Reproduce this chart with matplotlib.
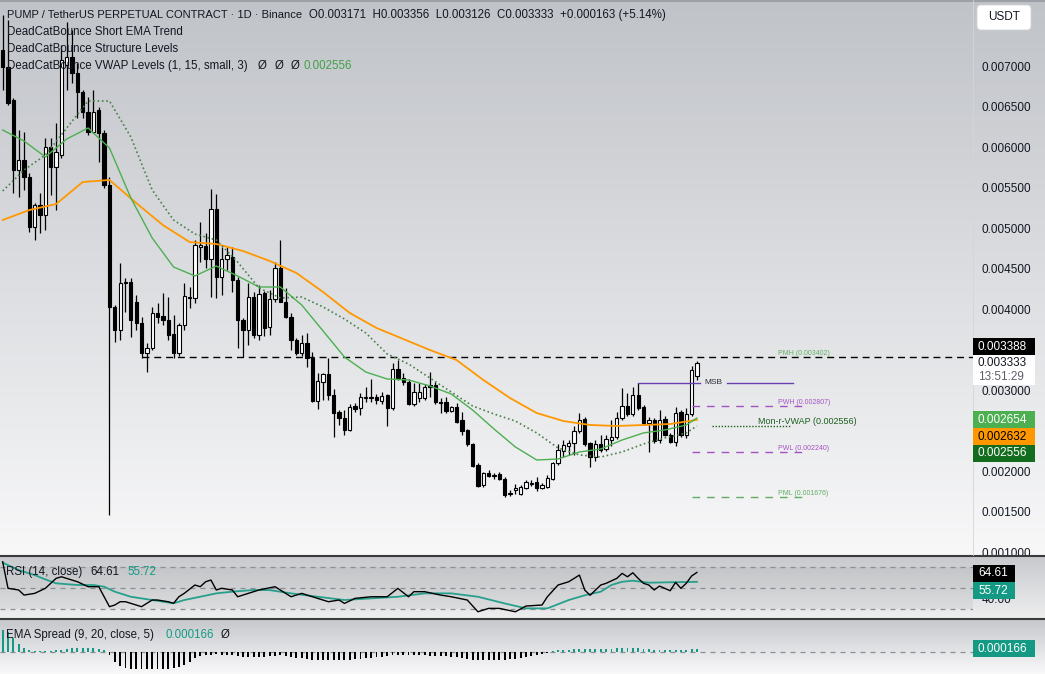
import numpy as np
import matplotlib
matplotlib.use("Agg")
import matplotlib.pyplot as plt
from matplotlib.patches import Rectangle, FancyBboxPatch
from matplotlib.colors import LinearSegmentedColormap
from matplotlib.ticker import FormatStrFormatter
from matplotlib.transforms import IdentityTransform
from matplotlib.lines import Line2D

plt.rcParams['font.family'] = ['Liberation Sans', 'DejaVu Sans']

W, H = 1045, 674

# daily candles, PUMP/USDT perp
open_ = [
    0.007198, 0.006988, 0.006580, 0.005716, 0.005840, 0.005630, 0.005012, 0.005284, 0.005161, 0.006000,
    0.005753, 0.005901, 0.007013, 0.007111, 0.006914, 0.006679, 0.006432, 0.006185, 0.006457, 0.006173,
    0.005531, 0.004025, 0.003741, 0.004321, 0.004334, 0.004087, 0.003827, 0.003457, 0.003519, 0.003951,
    0.003914, 0.003864, 0.003692, 0.003457, 0.003802, 0.004136, 0.004136, 0.004766, 0.004778, 0.004617,
    0.005235, 0.004395, 0.004617, 0.004642, 0.004358, 0.003864, 0.003741, 0.004148, 0.003679, 0.004198,
    0.003778, 0.004124, 0.004506, 0.004087, 0.003901, 0.003617, 0.003457, 0.003580, 0.003395, 0.002864,
    0.003099, 0.003198, 0.002938, 0.002729, 0.002654, 0.002507, 0.002803, 0.002778, 0.002901, 0.002914,
    0.002914, 0.002864, 0.002938, 0.002778, 0.003259, 0.003148, 0.003099, 0.002827, 0.002901, 0.002901,
    0.003062, 0.003062, 0.002852, 0.002852, 0.002741, 0.002790, 0.002630, 0.002507, 0.002334, 0.002074,
    0.001827, 0.001975, 0.001938, 0.001963, 0.001901, 0.001716, 0.001766, 0.001716, 0.001790, 0.001840,
    0.001864, 0.001790, 0.001803, 0.001901, 0.002099, 0.002247, 0.002309, 0.002346, 0.002495, 0.002642,
    0.002346, 0.002173, 0.002334, 0.002272, 0.002383, 0.002420, 0.002654, 0.002803, 0.002704, 0.002938,
    0.002790, 0.002593, 0.002630, 0.002383, 0.002642, 0.002445, 0.002358, 0.002729, 0.002445, 0.002704,
    0.003171]
high = [
    0.007630, 0.007568, 0.006605, 0.006210, 0.006185, 0.005679, 0.005309, 0.005432, 0.006111, 0.006111,
    0.006296, 0.007259, 0.007543, 0.007445, 0.007037, 0.006704, 0.006617, 0.006704, 0.006494, 0.006210,
    0.005630, 0.004049, 0.004568, 0.004383, 0.004383, 0.004173, 0.003901, 0.003580, 0.004025, 0.004074,
    0.004198, 0.004148, 0.003926, 0.003827, 0.004321, 0.004272, 0.004852, 0.005074, 0.004938, 0.005482,
    0.005420, 0.004766, 0.004766, 0.004766, 0.004395, 0.003889, 0.004321, 0.004210, 0.004297, 0.004222,
    0.004235, 0.004580, 0.004852, 0.004260, 0.003951, 0.003642, 0.003679, 0.003704, 0.003469, 0.003210,
    0.003210, 0.003395, 0.003012, 0.002753, 0.002753, 0.002827, 0.002840, 0.002963, 0.003037, 0.003136,
    0.002951, 0.002975, 0.002951, 0.003333, 0.003370, 0.003210, 0.003136, 0.003087, 0.003087, 0.003074,
    0.003222, 0.003099, 0.002901, 0.002914, 0.002803, 0.002840, 0.002729, 0.002519, 0.002346, 0.002099,
    0.001988, 0.002012, 0.001975, 0.001988, 0.001926, 0.001766, 0.001840, 0.001827, 0.001889, 0.001889,
    0.001926, 0.001852, 0.001951, 0.002111, 0.002334, 0.002383, 0.002383, 0.002556, 0.002716, 0.002667,
    0.002358, 0.002383, 0.002445, 0.002445, 0.002630, 0.002729, 0.003025, 0.002963, 0.003037, 0.003087,
    0.002815, 0.002667, 0.002654, 0.002753, 0.002679, 0.002470, 0.002790, 0.002753, 0.002778, 0.003296,
    0.003356]
low = [
    0.006704, 0.006519, 0.005432, 0.005383, 0.005469, 0.004951, 0.004852, 0.004938, 0.004975, 0.005408,
    0.005222, 0.005864, 0.006704, 0.006790, 0.006358, 0.006358, 0.006148, 0.006173, 0.005815, 0.005494,
    0.001457, 0.003593, 0.003617, 0.003963, 0.003654, 0.003741, 0.003395, 0.003222, 0.003494, 0.003827,
    0.003802, 0.003617, 0.003395, 0.003420, 0.003741, 0.004012, 0.004074, 0.004580, 0.004506, 0.004148,
    0.004136, 0.004173, 0.004482, 0.004210, 0.003519, 0.003407, 0.003556, 0.003642, 0.003617, 0.003667,
    0.003679, 0.004087, 0.004087, 0.003889, 0.003494, 0.003432, 0.003420, 0.003284, 0.002852, 0.002766,
    0.002877, 0.002877, 0.002420, 0.002568, 0.002445, 0.002495, 0.002729, 0.002692, 0.002852, 0.002852,
    0.002827, 0.002827, 0.002556, 0.002753, 0.003124, 0.003062, 0.002815, 0.002803, 0.002852, 0.002877,
    0.002914, 0.002827, 0.002716, 0.002716, 0.002729, 0.002593, 0.002445, 0.002309, 0.002050, 0.001803,
    0.001803, 0.001926, 0.001901, 0.001889, 0.001676, 0.001690, 0.001716, 0.001704, 0.001778, 0.001815,
    0.001753, 0.001778, 0.001790, 0.001889, 0.002074, 0.002173, 0.002198, 0.002198, 0.002470, 0.002309,
    0.002050, 0.002124, 0.002235, 0.002247, 0.002309, 0.002395, 0.002630, 0.002679, 0.002679, 0.002753,
    0.002568, 0.002235, 0.002346, 0.002346, 0.002432, 0.002346, 0.002309, 0.002420, 0.002408, 0.002679,
    0.003126]
close = [
    0.006988, 0.006543, 0.005716, 0.005840, 0.005630, 0.005012, 0.005284, 0.005161, 0.006000, 0.005753,
    0.005938, 0.007074, 0.007111, 0.006914, 0.006679, 0.006432, 0.006185, 0.006432, 0.006173, 0.005531,
    0.004025, 0.003741, 0.004321, 0.004334, 0.003864, 0.003827, 0.003457, 0.003519, 0.003951, 0.003901,
    0.003864, 0.003679, 0.003457, 0.003802, 0.004161, 0.004148, 0.004790, 0.004790, 0.004617, 0.005235,
    0.004395, 0.004617, 0.004667, 0.004358, 0.003864, 0.003741, 0.004148, 0.003679, 0.004185, 0.003766,
    0.004124, 0.004506, 0.004087, 0.003901, 0.003617, 0.003457, 0.003580, 0.003395, 0.002864, 0.003111,
    0.003198, 0.002938, 0.002716, 0.002654, 0.002507, 0.002790, 0.002766, 0.002914, 0.002914, 0.002901,
    0.002877, 0.002926, 0.002778, 0.003259, 0.003148, 0.003099, 0.002827, 0.002975, 0.002975, 0.003037,
    0.003037, 0.002852, 0.002840, 0.002741, 0.002790, 0.002605, 0.002495, 0.002334, 0.002062, 0.001815,
    0.001975, 0.001938, 0.001951, 0.001901, 0.001704, 0.001728, 0.001790, 0.001803, 0.001864, 0.001852,
    0.001790, 0.001827, 0.001914, 0.002099, 0.002260, 0.002321, 0.002346, 0.002495, 0.002630, 0.002334,
    0.002173, 0.002334, 0.002260, 0.002395, 0.002420, 0.002654, 0.002803, 0.002704, 0.002938, 0.002778,
    0.002593, 0.002630, 0.002371, 0.002630, 0.002445, 0.002358, 0.002716, 0.002445, 0.002704, 0.003250,
    0.003333]

# trend lines at some candles
fast_idx = [0, 4, 8, 12, 16, 20, 24, 28, 32, 36, 40, 44, 48, 52, 56, 60, 64, 68, 72, 76,
            80, 84, 88, 92, 96, 100, 104, 108, 112, 116, 120, 124, 128, 130]
fast_ema = [0.006210, 0.006074, 0.005877, 0.006099, 0.006235, 0.005988, 0.005371, 0.004877, 0.004519, 0.004408,
            0.004531, 0.004408, 0.004272, 0.004272, 0.004049, 0.003729, 0.003407, 0.003222, 0.003136, 0.003124,
            0.003050, 0.002951, 0.002753, 0.002519, 0.002297, 0.002136, 0.002148, 0.002235, 0.002272, 0.002383,
            0.002470, 0.002507, 0.002568, 0.002654]
vwap_line = [0.005457, 0.005716, 0.005901, 0.006235, 0.006568, 0.006568, 0.006124, 0.005469, 0.005099, 0.004926,
             0.004852, 0.004580, 0.004260, 0.004136, 0.004148, 0.004025, 0.003877, 0.003704, 0.003445, 0.003321,
             0.003148, 0.002975, 0.002803, 0.002704, 0.002617, 0.002470, 0.002284, 0.002198, 0.002173, 0.002235,
             0.002334, 0.002408, 0.002470, 0.002556]
slow_idx = list(range(0, 131, 5))
slow_ema = [0.005099, 0.005222, 0.005296, 0.005568, 0.005593, 0.005309, 0.005037, 0.004827, 0.004803, 0.004716,
            0.004593, 0.004445, 0.004210, 0.003951, 0.003766, 0.003630, 0.003494, 0.003370, 0.003124, 0.002901,
            0.002716, 0.002617, 0.002568, 0.002556, 0.002568, 0.002580, 0.002632]

# structure levels
pmh, pwh, pwl, pml = 0.003402, 0.002807, 0.002240, 0.001676
msb = 0.003090
mon_vwap = 0.002556

# RSI panel
rsi_idx = [0, 1, 3, 4, 6, 8, 9, 10, 11, 14, 16, 18, 19, 20, 21, 22, 23, 25, 26, 27,
           28, 29, 31, 32, 33, 34, 36, 37, 38, 39, 40, 41, 43, 44, 47, 48, 51, 53, 54, 56,
           58, 61, 63, 64, 66, 69, 72, 74, 76, 77, 79, 82, 84, 87, 89, 91, 93, 96, 98, 101,
           102, 104, 106, 108, 109, 110, 112, 113, 115, 116, 117, 118, 119, 120, 121, 122, 123, 125, 126, 127,
           128, 129, 130]
rsi_val = [74.7, 49.6, 48.0, 43.2, 44.8, 49.6, 54.3, 59.0, 60.5, 55.8, 51.1, 51.1, 41.6, 32.2, 33.8, 36.9, 36.9, 33.8, 32.2, 35.4,
           38.5, 38.5, 36.9, 35.4, 41.6, 44.8, 52.7, 51.1, 55.8, 57.4, 48.0, 49.6, 48.0, 41.6, 46.4, 48.0, 51.1, 44.8, 41.6, 44.8,
           41.6, 36.9, 38.5, 35.3, 40.1, 41.6, 41.6, 49.5, 41.6, 46.4, 46.4, 43.2, 41.6, 38.5, 27.4, 30.6, 30.6, 27.4, 32.8, 33.8,
           41.6, 52.7, 55.8, 62.1, 47.9, 43.0, 52.7, 54.3, 59.0, 63.7, 60.5, 64.3, 59.0, 54.3, 52.7, 48.0, 51.7, 47.3, 55.2, 49.6,
           54.3, 61.2, 64.61]
rsi_ma_idx = [0, 3, 6, 8, 10, 14, 17, 19, 21, 24, 28, 32, 34, 37, 40, 43, 47, 50, 54, 59,
              64, 69, 74, 79, 84, 89, 94, 98, 102, 106, 109, 112, 114, 116, 118, 121, 124, 130]
rsi_ma = [73.9, 66.8, 62.1, 58.0, 54.3, 52.7, 52.7, 51.1, 46.4, 41.6, 38.5, 35.4, 38.5, 41.6, 44.8, 46.4, 48.0, 47.9, 44.8, 41.6,
          38.5, 40.1, 41.6, 44.8, 44.8, 41.6, 35.3, 30.6, 30.6, 38.5, 43.0, 46.4, 52.7, 55.8, 56.8, 54.9, 55.2, 55.72]

# EMA spread histogram
spread = [
    0.00121, 0.00110, 0.00077, 0.00044, 0.00022, 0.00011, 0.000055, 0.000055, 0.000055, 0.000055,
    0.000083, 0.00011, 0.000165, 0.000193, 0.00022, 0.00022, 0.00022, 0.000193, 0.000165, 0.000083,
    -0.000165, -0.00055, -0.00077, -0.00088, -0.000935, -0.000935, -0.000935, -0.000935, -0.000935, -0.000935,
    -0.000935, -0.000935, -0.00088, -0.000825, -0.000715, -0.00055, -0.00033, -0.00022, -0.000165, -0.000138,
    -0.00011, -0.000138, -0.000165, -0.000165, -0.00022, -0.000275, -0.000275, -0.000275, -0.000275, -0.000248,
    -0.00022, -0.000193, -0.000165, -0.00022, -0.000275, -0.00033, -0.00033, -0.000385, -0.00044, -0.00044,
    -0.00044, -0.00044, -0.00044, -0.00044, -0.00044, -0.000413, -0.000385, -0.000358, -0.00033, -0.000303,
    -0.000275, -0.000248, -0.00022, -0.000165, -0.000138, -0.000138, -0.000165, -0.000165, -0.000165, -0.000165,
    -0.000193, -0.000193, -0.00022, -0.00022, -0.000248, -0.000275, -0.00033, -0.000385, -0.000413, -0.00044,
    -0.00044, -0.00044, -0.00044, -0.000413, -0.000413, -0.000385, -0.000358, -0.00033, -0.000275, -0.00022,
    -0.000165, -0.00011, -0.000055, 0.000055, 0.000083, 0.00011, 0.00011, 0.000138, 0.000165, 0.000165,
    0.000165, 0.000138, 0.000138, 0.000165, 0.000165, 0.000193, 0.000193, 0.000193, 0.000193, 0.000193,
    0.000165, 0.000138, 0.00011, 0.00011, 0.00011, 0.000083, 0.000083, 0.000083, 0.000083, 0.000138,
    0.000166]

# price scale labels left visible (0.0035 / 0.0025 sit behind the tags)
price_ticks = [0.001, 0.0015, 0.002, 0.003, 0.004, 0.0045, 0.005, 0.0055, 0.006, 0.0065, 0.007]

TEAL = '#149a84'
TXT = '#131722'
XMAX = 181.7

fig = plt.figure(figsize=(W / 100, H / 100), dpi=100)


def pane_bg(top, bottom, c_top, c_bot):
    bg = fig.add_axes([0, 1 - bottom / H, 1, (bottom - top) / H])
    cm = LinearSegmentedColormap.from_list('g', [c_top, c_bot])
    bg.imshow(np.linspace(0, 1, 256)[:, None], aspect='auto', cmap=cm, extent=[0, 1, 0, 1])
    bg.set_axis_off()


def tag(ax, value, label, fc, tc, dy=0.0, w=62, h=17):
    yc = ax.transData.transform((0, value))[1] + dy
    fig.add_artist(Rectangle((973, yc - h / 2), w, h, transform=IdentityTransform(),
                             facecolor=fc, edgecolor='none', zorder=10))
    fig.text(978, yc, label, transform=IdentityTransform(), color=tc, fontsize=8.5,
             va='center', ha='left', zorder=11)


def clean(ax):
    for s in ax.spines.values():
        s.set_visible(False)
    ax.set_facecolor('none')
    ax.set_xticks([])
    ax.set_xlim(-0.5, XMAX)
    ax.yaxis.tick_right()
    ax.tick_params(axis='y', length=0, pad=6, labelsize=8.5, labelcolor=TXT)


# ---- main price pane
pane_bg(0, 555, '#c0c3c8', '#f8f8f9')
ax = fig.add_axes([0, 1 - 555 / H, 973 / W, 555 / H])
clean(ax)
ax.set_ylim(0.000963, 0.007815)
ax.set_yticks(price_ticks)
ax.yaxis.set_major_formatter(FormatStrFormatter('%.6f'))

x = np.arange(len(close))
o, h, l, c = map(np.array, (open_, high, low, close))
up = c >= o
ax.vlines(x, l, h, color='black', lw=0.9, zorder=2)
bottom = np.minimum(o, c)
height = np.maximum(np.abs(c - o), 0.000015)
ax.bar(x[up], height[up], bottom=bottom[up], width=0.62, color='white', edgecolor='black', lw=0.8, zorder=3)
ax.bar(x[~up], height[~up], bottom=bottom[~up], width=0.62, color='black', edgecolor='black', lw=0.8, zorder=3)

ax.plot(slow_idx, slow_ema, color='#ff9800', lw=1.3, zorder=4)
ax.plot(fast_idx, fast_ema, color='#4caf50', lw=1.0, zorder=4)
ax.plot(fast_idx, vwap_line, color='#4a7f4a', lw=1.2, ls=(0, (1, 1.6)), zorder=4)

# levels
ax.plot([26, XMAX], [pmh, pmh], color='black', lw=1, ls=(0, (5, 3.5)), zorder=3)
ax.plot([129, 150], [pwh, pwh], color='#a553c4', lw=1, ls=(0, (5.5, 5)), zorder=3)
ax.plot([129, 150], [pwl, pwl], color='#a553c4', lw=1, ls=(0, (5.5, 5)), zorder=3)
ax.plot([129, 150], [pml, pml], color='#5fae63', lw=1, ls=(0, (5.5, 5)), zorder=3)
ax.plot([132.8, 147.4], [mon_vwap, mon_vwap], color='#1b5e20', lw=1, ls=(0, (1, 1.2)), zorder=3)
ax.plot([119, 130.6], [msb, msb], color='#6a3fb0', lw=1, zorder=3)
ax.plot([135.6, 148], [msb, msb], color='#6a3fb0', lw=1, zorder=3)
ax.text(133.1, msb, 'MSB', fontsize=6, color='#2a2e39', ha='center', va='center')
ax.text(145.2, pmh, 'PMH (0.003402)', fontsize=5, color='#5fae63', va='bottom')
ax.text(145.2, pwh, 'PWH (0.002807)', fontsize=5, color='#a553c4', va='bottom')
ax.text(145.2, pwl, 'PWL (0.002240)', fontsize=5, color='#a553c4', va='bottom')
ax.text(145.2, pml, 'PML (0.001676)', fontsize=5, color='#5fae63', va='bottom')
ax.text(141.4, mon_vwap, 'Mon-r-VWAP (0.002556)', fontsize=6.5, color='#1b5e20', va='bottom')

# ---- RSI pane
pane_bg(555, 618, '#c6c8cc', '#eeeeef')
rax = fig.add_axes([0, 1 - 618 / H, 973 / W, 61 / H])
clean(rax)
rax.set_ylim(21.5, 79.2)
rax.set_yticks([40])
rax.set_yticklabels(['40.00'])
rax.axhspan(30, 70, color='black', alpha=0.05, lw=0)
for lv in (70, 50, 30):
    rax.axhline(lv, color='#8a8d94', lw=0.9, ls=(0, (4, 4)))
rax.plot(rsi_ma_idx, rsi_ma, color='#26a08c', lw=1.3, zorder=3)
rax.plot(rsi_idx, rsi_val, color='black', lw=1.0, zorder=4)

# ---- EMA spread pane
pane_bg(618, 674, '#c4c6ca', '#f9f9fa')
eax = fig.add_axes([0, 0, 973 / W, 54 / H])
clean(eax)
eax.set_yticks([])
eax.set_ylim(-0.00121, 0.00176)
eax.axhline(0, color='#8a8d94', lw=0.9, ls=(0, (4, 4)), zorder=1)
sp = np.array(spread)
eax.bar(x, sp, width=0.36, color=np.where(sp >= 0, TEAL, 'black'), zorder=2)

# separators and borders
for yy in (555.5, 618.5):
    fig.add_artist(Line2D([0, W], [H - yy, H - yy], transform=IdentityTransform(), color='#3a3a3a', lw=1.5))
fig.add_artist(Line2D([0, W], [H - 0.5, H - 0.5], transform=IdentityTransform(), color='#9da0a6', lw=1.5))
fig.add_artist(Line2D([973, 973], [H - 555, H], transform=IdentityTransform(), color='#d3d5d9', lw=0.6))

# price tags on the right scale
tag(ax, 0.003388, '0.003388', 'black', 'white', dy=12)
yc = ax.transData.transform((0, 0.003333))[1] - 7
fig.add_artist(Rectangle((973, yc - 15), 62, 30, transform=IdentityTransform(), facecolor='white', edgecolor='none', zorder=10))
fig.text(978, yc + 7, '0.003333', transform=IdentityTransform(), color=TXT, fontsize=8.5, va='center', zorder=11)
fig.text(978, yc - 7, '13:51:29', transform=IdentityTransform(), color='#5d606b', fontsize=8.5, va='center', zorder=11)
tag(ax, 0.002654, '0.002654', '#4caf50', 'white', dy=-1.5)
tag(ax, 0.002632, '0.002632', '#ff9800', 'black', dy=-16.7)
tag(ax, 0.002556, '0.002556', '#146c1f', 'white', dy=-27.5)
tag(rax, 64.61, '64.61', 'black', 'white', dy=-1, w=42)
tag(rax, 55.72, '55.72', TEAL, 'white', dy=-8.7, w=42)
tag(eax, 0.000166, '0.000166', TEAL, 'white', dy=0)

fig.add_artist(FancyBboxPatch((977, H - 30), 54, 25, boxstyle='round,pad=0,rounding_size=4',
                              transform=IdentityTransform(), facecolor='white', edgecolor='#d0d3d8', lw=0.6, zorder=10))
fig.text(1004, H - 17.5, 'USDT', transform=IdentityTransform(), color=TXT, fontsize=8.5, ha='center', va='center', zorder=11)


# legend texts
def ftxt(px, py, s, color=TXT, size=8.3):
    fig.text(px / W, 1 - py / H, s, color=color, fontsize=size, va='center', ha='left')


ftxt(7, 15, 'PUMP / TetherUS PERPETUAL CONTRACT · 1D · Binance', size=8.05)
ftxt(309, 15, 'O0.003171  H0.003356  L0.003126  C0.003333  +0.000163 (+5.14%)')
ftxt(7, 32, 'DeadCatBounce Short EMA Trend')
ftxt(7, 49, 'DeadCatBounce Structure Levels')
ftxt(7, 66, 'DeadCatBounce VWAP Levels (1, 15, small, 3)')
for zx in (258, 275, 291):
    ftxt(zx, 66, 'Ø')
ftxt(304, 66, '0.002556', color='#43a047')
ftxt(6, 572, 'RSI (14, close)')
ftxt(90, 572, '64.61')
ftxt(127, 572, '55.72', color=TEAL)
ftxt(6, 635, 'EMA Spread (9, 20, close, 5)')
ftxt(165, 635, '0.000166', color=TEAL)
ftxt(221, 635, 'Ø')

fig.savefig('out.png', dpi=100)
